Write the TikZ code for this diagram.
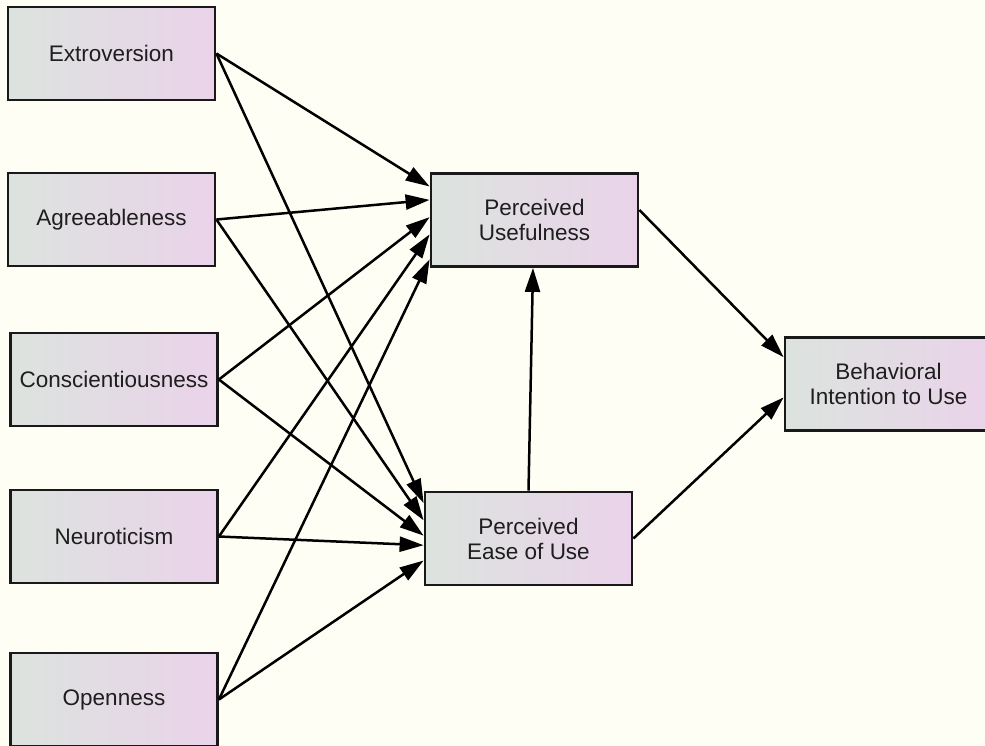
\documentclass[tikz,border=0pt]{standalone}
\usepackage{fontspec}
\setmainfont{Liberation Sans}
\usetikzlibrary{arrows.meta,calc}
\definecolor{bg}{RGB}{254,254,244}
\definecolor{gl}{RGB}{220,227,222}
\definecolor{gr}{RGB}{234,211,234}
\definecolor{txt}{RGB}{30,30,30}
\begin{document}
\begin{tikzpicture}[x=1pt,y=-1pt,
  box/.style={draw=black!90, line width=2.8pt, left color=gl, right color=gr,
    minimum width=207pt, minimum height=93pt, inner sep=0pt, align=center,
    text=txt, font=\fontsize{22.5}{25}\selectfont},
  arr/.style={line width=2.5pt, -{Triangle[length=24pt,width=15pt]}}]
\fill[bg] (0,0) rectangle (985,745);
\useasboundingbox (0,0) rectangle (985,745);

\node[box] (ex) at (111.5,53.5) {Extroversion};
\node[box] (ag) at (111.5,219.5) {Agreeableness};
\node[box] (co) at (114,379.5) {Conscientiousness};
\node[box] (ne) at (114,536.5) {Neuroticism};
\node[box] (op) at (114,699.5) {Openness};
\node[box] (pu) at (534.5,220) {Perceived\\Usefulness};
\node[box] (pe) at (528.5,538.5) {Perceived\\Ease of Use};
\node[box] (bi) at (888.5,384) {Behavioral\\Intention to Use};

% to Perceived Usefulness
\draw[arr] (ex.east) -- ($(pu.north west)!0.15!(pu.south west)$);
\draw[arr] (ag.east) -- ($(pu.north west)!0.29!(pu.south west)$);
\draw[arr] (co.east) -- ($(pu.north west)!0.47!(pu.south west)$);
\draw[arr] (ne.east) -- ($(pu.north west)!0.65!(pu.south west)$);
\draw[arr] (op.east) -- ($(pu.north west)!0.91!(pu.south west)$);

% to Perceived Ease of Use
\draw[arr] (ex.east) -- ($(pe.north west)!0.13!(pe.south west)$);
\draw[arr] (ag.east) -- ($(pe.north west)!0.31!(pe.south west)$);
\draw[arr] (co.east) -- ($(pe.north west)!0.47!(pe.south west)$);
\draw[arr] (ne.east) -- ($(pe.north west)!0.57!(pe.south west)$);
\draw[arr] (op.east) -- ($(pe.north west)!0.73!(pe.south west)$);

% PEOU -> PU
\draw[arr] (pe.north) -- ($(pu.south)+(-1.5,0)$);

% to Behavioral Intention
\draw[arr] ($(pu.east)+(0,-10)$) -- ($(bi.north west)!0.22!(bi.south west)$);
\draw[arr] (pe.east) -- ($(bi.north west)!0.64!(bi.south west)$);
\end{tikzpicture}
\end{document}
